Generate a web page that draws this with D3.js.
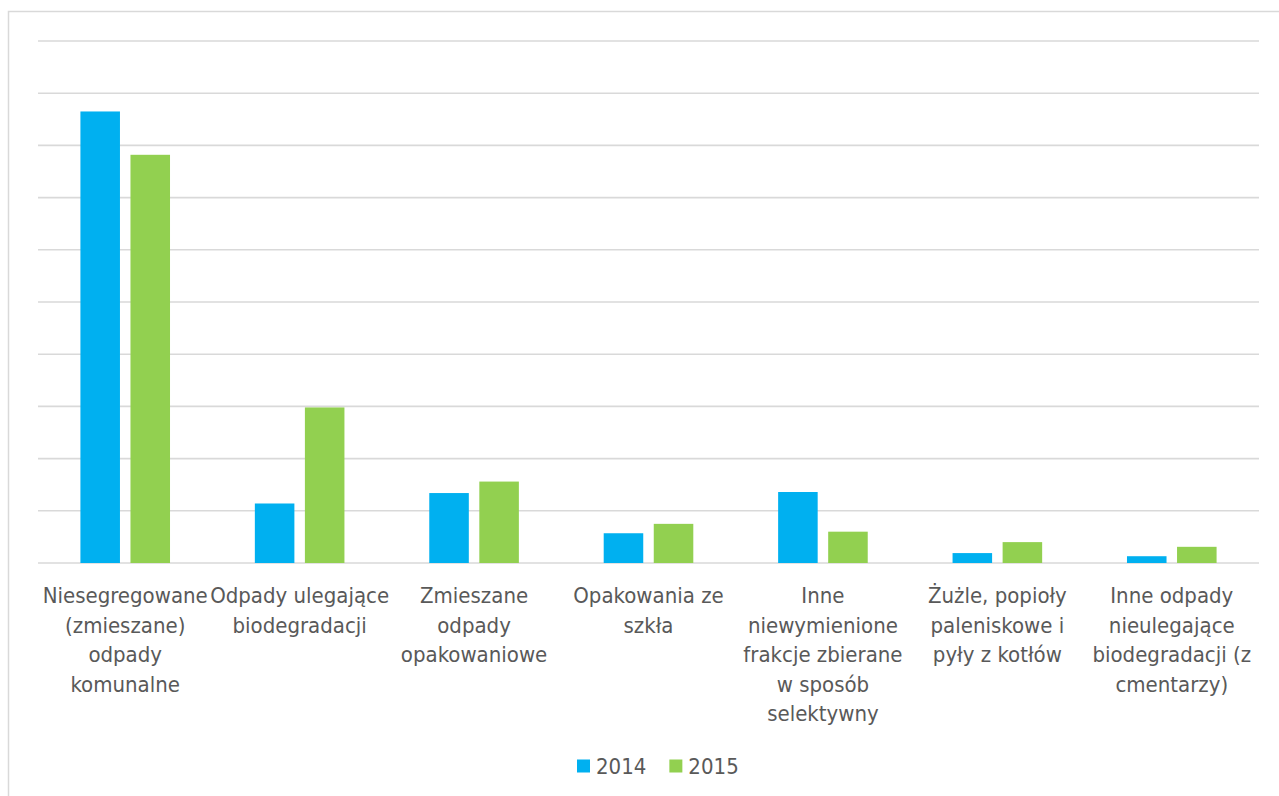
<!DOCTYPE html>
<html>
<head>
<meta charset="utf-8">
<script src="https://cdn.jsdelivr.net/npm/d3@7"></script>
<style>
  body { margin: 0; background: #fff; }
  svg { display: block; }
  text { font-family: "Liberation Sans Narrow", "Arial Narrow", "DejaVu Sans Condensed", sans-serif; fill: #595959; }
</style>
</head>
<body>
<div id="chart"></div>
<script>
// categories (label lines as wrapped in the original)
const categories = [
  ["Niesegregowane", "(zmieszane)", "odpady", "komunalne"],
  ["Odpady ulegające", "biodegradacji"],
  ["Zmieszane", "odpady", "opakowaniowe"],
  ["Opakowania ze", "szkła"],
  ["Inne", "niewymienione", "frakcje zbierane", "w sposób", "selektywny"],
  ["Żużle, popioły", "paleniskowe i", "pyły z kotłów"],
  ["Inne odpady", "nieulegające", "biodegradacji (z", "cmentarzy)"]
];
const years = ["2014", "2015"];
const values2014 = [8.65, 1.14, 1.34, 0.57, 1.36, 0.19, 0.13];
const values2015 = [7.82, 2.98, 1.56, 0.75, 0.60, 0.40, 0.31];
const gridTicks = [0, 1, 2, 3, 4, 5, 6, 7, 8, 9, 10];

const colors = {"2014": "#00b0f0", "2015": "#92d050"};

const width = 1279, height = 796;
const svg = d3.select("#chart").append("svg")
  .attr("width", width)
  .attr("height", height);

// outer chart border
svg.append("rect")
  .attr("x", 8.5).attr("y", 11.5)
  .attr("width", 1300).attr("height", 820)
  .attr("fill", "none")
  .attr("stroke", "#d9d9d9")
  .attr("stroke-width", 1.5);

const plot = {left: 38, right: 1259, top: 41, bottom: 563};

const keys = categories.map((c, i) => i);
const x0 = d3.scaleBand().domain(keys).range([plot.left, plot.right]).padding(0);
const groupW = 89.6;
const x1 = d3.scaleBand().domain(years).range([0, groupW]).paddingInner(0.21);
const y = d3.scaleLinear().domain([0, 10]).range([plot.bottom, plot.top]);

// gridlines
svg.append("g").selectAll("line")
  .data(gridTicks)
  .join("line")
  .attr("x1", plot.left).attr("x2", plot.right)
  .attr("y1", d => y(d)).attr("y2", d => y(d))
  .attr("stroke", "#d9d9d9")
  .attr("stroke-width", 1.6);

// bars
const rows = keys.map(i => ({i, "2014": values2014[i], "2015": values2015[i]}));
const groups = svg.append("g").selectAll("g")
  .data(rows)
  .join("g")
  .attr("transform", d => `translate(${x0(d.i) + (x0.bandwidth() - groupW) / 2},0)`);

groups.selectAll("rect")
  .data(d => years.map(yr => ({yr, v: d[yr]})))
  .join("rect")
  .attr("x", d => x1(d.yr))
  .attr("width", x1.bandwidth())
  .attr("y", d => y(d.v))
  .attr("height", d => y(0) - y(d.v))
  .attr("fill", d => colors[d.yr]);

// category labels
const labels = svg.append("g").selectAll("text")
  .data(keys)
  .join("text")
  .attr("text-anchor", "middle")
  .attr("font-size", "22px")
  .attr("x", d => x0(d) + x0.bandwidth() / 2)
  .attr("y", 603);

labels.selectAll("tspan")
  .data(d => categories[d].map((t, j) => ({t, j, x: x0(d) + x0.bandwidth() / 2})))
  .join("tspan")
  .attr("x", d => d.x)
  .attr("dy", d => d.j === 0 ? 0 : 29.6)
  .text(d => d.t);

// legend
const legend = svg.append("g").attr("transform", "translate(577,766)");
let lx = 0;
years.forEach(yr => {
  const item = legend.append("g").attr("transform", `translate(${lx},0)`);
  item.append("rect")
    .attr("x", 0).attr("y", -6.5)
    .attr("width", 13).attr("height", 13)
    .attr("fill", colors[yr]);
  const t = item.append("text")
    .attr("x", 19).attr("y", 8)
    .attr("font-size", "22px")
    .text(yr);
  lx += 19 + t.node().getComputedTextLength() + 23;
});
</script>
</body>
</html>
